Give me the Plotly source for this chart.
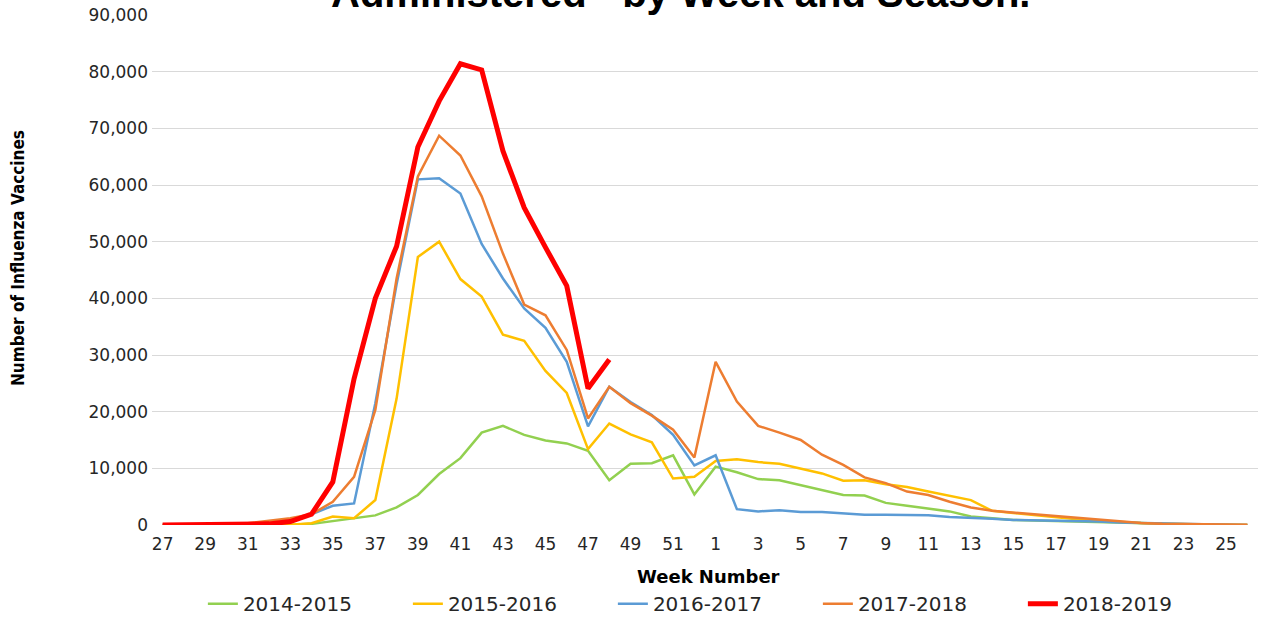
import plotly.graph_objects as go

# Week numbers of the flu season, July (week 27) through June (week 26)
weeks = list(range(27, 53)) + list(range(1, 27))

# Weekly influenza vaccines administered, by season
s2014_2015 = [0, 0, 0, 0, 0, 0, 50, 200, 700, 1200, 1700, 3100, 5300, 9000, 11800, 16300,
              17500, 15900, 14900, 14400, 13100, 7900, 10800, 10900, 12300, 5400, 10300, 9300,
              8100, 7900, 7000, 6100, 5300, 5200, 3900, 3400, 2900, 2400, 1500, 1200, 900, 800,
              700, 600, 450, 350, 250, 150, 100, 50, 30, 0]
s2015_2016 = [0, 0, 0, 0, 0, 0, 50, 300, 1500, 1200, 4400, 22300, 47300, 50000, 43400, 40300,
              33600, 32500, 27200, 23300, 13400, 17900, 16000, 14600, 8200, 8500, 11300, 11600,
              11100, 10800, 9900, 9100, 7800, 7900, 7200, 6700, 5900, 5100, 4400, 2500, 2100,
              1700, 1300, 1000, 750, 500, 350, 200, 120, 80, 50, 20]
s2016_2017 = [0, 0, 0, 0, 100, 300, 800, 1900, 3400, 3800, 21500, 42500, 61000, 61200, 58500,
              49600, 43500, 38200, 34800, 28800, 17400, 24400, 21700, 19400, 15900, 10500, 12300,
              2800, 2400, 2600, 2300, 2300, 2100, 1800, 1800, 1700, 1700, 1400, 1300, 1100, 900,
              850, 800, 700, 600, 450, 350, 250, 150, 100, 50, 20]
s2017_2018 = [0, 0, 0, 100, 300, 700, 1200, 1900, 4100, 8500, 20300, 43500, 61500, 68700, 65200,
              58000, 47900, 38900, 37000, 30900, 18800, 24400, 21500, 19300, 16800, 11900, 28800,
              21800, 17500, 16300, 15000, 12400, 10600, 8400, 7400, 5900, 5300, 4100, 3100, 2500,
              2200, 1900, 1600, 1200, 900, 600, 350, 200, 150, 100, 80, 50]
s2018_2019 = [0, 0, 0, 0, 50, 200, 600, 1900, 7600, 25800, 40000, 49200, 66700, 74800, 81400,
              80300, 66000, 56000, 49000, 42200, 24100, 29200]

seasons = ["2014-2015", "2015-2016", "2016-2017", "2017-2018", "2018-2019"]
series = [s2014_2015, s2015_2016, s2016_2017, s2017_2018, s2018_2019]
colors = ["#92D050", "#FFC000", "#5B9BD5", "#ED7D31", "#FF0000"]
widths = [2.5, 2.5, 2.5, 2.5, 5]

week_labels = [str(w) for w in weeks]

fig = go.Figure()
for name, vals, col, w in zip(seasons, series, colors, widths):
    fig.add_trace(go.Scatter(
        x=week_labels[:len(vals)], y=vals, name=name, mode="lines",
        line=dict(color=col, width=w),
    ))

tick_font = dict(family="DejaVu Sans", size=17, color="#262626")

fig.update_layout(
    width=1263, height=617,
    margin=dict(l=152, r=5, t=15, b=92, autoexpand=False),
    paper_bgcolor="white", plot_bgcolor="white",
    showlegend=True,
    legend=dict(
        orientation="h", x=0.046, xanchor="left", y=-0.116, yanchor="top",
        font=dict(family="DejaVu Sans", size=20, color="#262626"),
        entrywidth=160, entrywidthmode="pixels",
        bgcolor="rgba(0,0,0,0)", borderwidth=0,
    ),
    xaxis=dict(
        type="category", categoryorder="array", categoryarray=week_labels,
        range=[-0.5, len(weeks) - 0.5],
        tickmode="array", tickvals=week_labels[::2], ticktext=week_labels[::2],
        tickfont=tick_font, showgrid=False, showline=False, ticks="",
        ticklabelstandoff=7, zeroline=False, automargin=False,
    ),
    yaxis=dict(
        range=[0, 90000], tickmode="linear", tick0=0, dtick=10000,
        tickformat=",", tickfont=tick_font, showgrid=True, gridcolor="#D9D9D9",
        gridwidth=1, zeroline=False, showline=False, ticks="",
        ticklabelstandoff=3, automargin=False,
    ),
)

# Chart heading, partly running off the top edge of the page
fig.add_annotation(
    text="<b>Administered - by Week and Season.</b>", xref="paper", yref="paper",
    x=0.478, y=0.996, xanchor="center", yanchor="bottom", showarrow=False,
    font=dict(family="Liberation Sans", size=40, color="#000000"),
)
fig.add_annotation(
    text="<b>Week Number</b>", xref="paper", yref="paper",
    x=0.5036, y=-0.1, xanchor="center", yanchor="middle", showarrow=False,
    font=dict(family="DejaVu Sans", size=18, color="#000000"),
)
fig.add_annotation(
    text="<b>Number of Influenza Vaccines</b>", xref="paper", yref="paper",
    x=-0.121, y=0.524, xanchor="center", yanchor="middle", showarrow=False,
    textangle=-90,
    font=dict(family="DejaVu Sans Condensed, DejaVu Sans", size=17, color="#000000"),
)

fig.write_html("out.html")
